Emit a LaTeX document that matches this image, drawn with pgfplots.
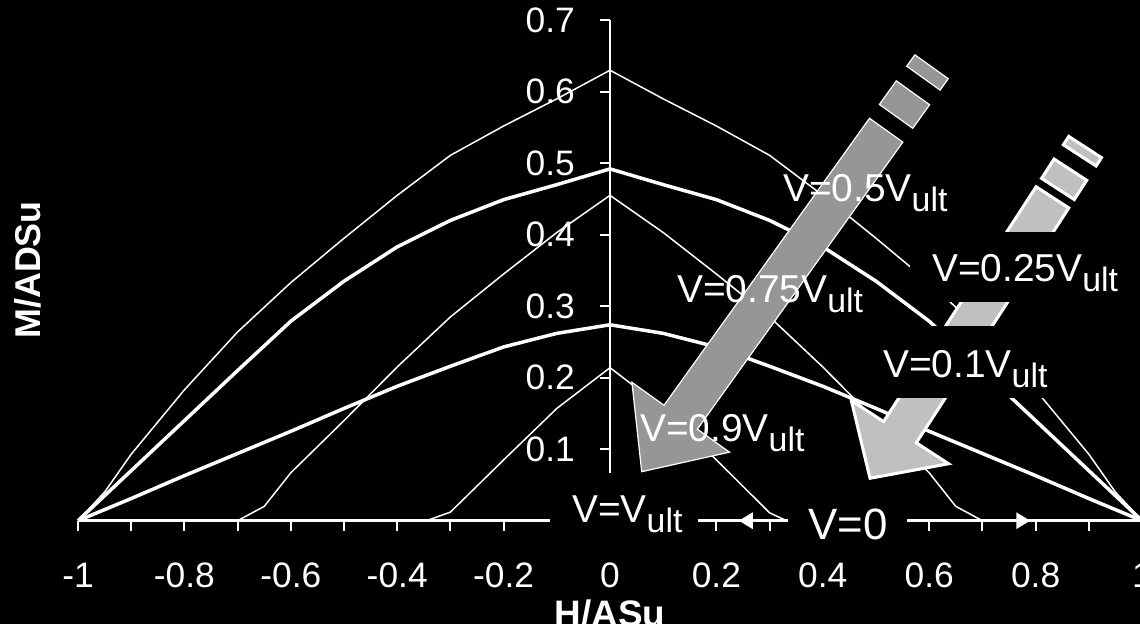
\documentclass[border=0pt]{standalone}
\usepackage{pgfplots}
\pgfplotsset{compat=1.18}
\usepackage{fontspec}
\setmainfont{Liberation Sans}
\usetikzlibrary{arrows.meta}
\definecolor{arrA}{RGB}{150,150,150}
\definecolor{arrB}{RGB}{192,192,192}
\newcommand{\ult}{\raisebox{-10bp}{\fontsize{34}{40}\selectfont ult}}
\newcommand{\lab}{\fontsize{39}{46}\selectfont}

\pgfplotstableread{
x y
-1 0
-0.95 0.04
-0.9 0.093
-0.8 0.183
-0.7 0.264
-0.6 0.333
-0.5 0.395
-0.4 0.455
-0.3 0.511
-0.2 0.552
-0.1 0.590
0 0.630
0.1 0.590
0.2 0.552
0.3 0.511
0.4 0.455
0.5 0.395
0.6 0.333
0.7 0.264
0.8 0.183
0.9 0.093
0.95 0.04
1 0
}\curveA

\pgfplotstableread{
x y
-1 0
-0.95 0.035
-0.9 0.07
-0.8 0.14
-0.7 0.21
-0.6 0.279
-0.5 0.335
-0.4 0.383
-0.3 0.42
-0.2 0.449
-0.1 0.470
0 0.492
0.1 0.470
0.2 0.449
0.3 0.42
0.4 0.383
0.5 0.335
0.6 0.279
0.7 0.21
0.8 0.14
0.9 0.07
0.95 0.035
1 0
}\curveB

\pgfplotstableread{
x y
-0.7 0
-0.65 0.02
-0.6 0.067
-0.5 0.14
-0.4 0.215
-0.3 0.285
-0.2 0.345
-0.1 0.403
0 0.455
0.1 0.403
0.2 0.345
0.3 0.285
0.4 0.215
0.5 0.14
0.6 0.067
0.65 0.02
0.7 0
}\curveC

\pgfplotstableread{
x y
-1 0
-0.9 0.031
-0.8 0.063
-0.7 0.094
-0.6 0.125
-0.5 0.157
-0.4 0.188
-0.3 0.216
-0.2 0.243
-0.1 0.262
0 0.274
0.1 0.262
0.2 0.243
0.3 0.216
0.4 0.188
0.5 0.157
0.6 0.125
0.7 0.094
0.8 0.063
0.9 0.031
1 0
}\curveD

\pgfplotstableread{
x y
-0.345 0
-0.3 0.012
-0.2 0.085
-0.1 0.157
0 0.214
0.1 0.157
0.2 0.085
0.3 0.011
0.332 0
}\curveE

\begin{document}
\begin{tikzpicture}[x=1bp,y=1bp]
\fill[black] (0,0) rectangle (1140,624);
\useasboundingbox (0,0) rectangle (1140,624);
\begin{axis}[
  at={(610bp,103.3bp)}, anchor=origin,
  scale only axis, width=1064bp, height=500.5bp,
  xmin=-1, xmax=1, ymin=0, ymax=0.7,
  axis x line*=middle, axis y line*=middle,
  axis line style={white, line width=2.5bp},
  hide obscured x ticks=false,
  tick align=outside,
  major tick length=10bp, minor tick length=10bp,
  tick style={white, line width=2bp},
  xtick={-1,-0.8,-0.6,-0.4,-0.2,0,0.2,0.4,0.6,0.8,1},
  xticklabels={-1,-0.8,-0.6,-0.4,-0.2,0,0.2,0.4,0.6,0.8,1},
  minor xtick={-0.9,-0.7,-0.5,-0.3,-0.1,0.1,0.3,0.5,0.7,0.9},
  ytick={0.1,0.2,0.3,0.4,0.5,0.6,0.7},
  yticklabels={0.1,0.2,0.3,0.4,0.5,0.6,0.7},
  ticklabel style={white, font=\fontsize{35.5}{42}\selectfont},
  xticklabel style={anchor=north, inner sep=0pt, yshift=-32bp},
  yticklabel style={anchor=east, inner sep=0pt, xshift=-25bp},
  clip=false,
]
\addplot[white, line width=1.5bp] table {\curveA};
\addplot[white, line width=3.5bp] table {\curveB};
\addplot[white, line width=1.5bp] table {\curveC};
\addplot[white, line width=3.5bp] table {\curveD};
\addplot[white, line width=1.5bp] table {\curveE};
\draw[white, line width=3bp, -{Triangle[length=14bp, width=16bp]}] (axis cs:0.335,0) -- (axis cs:0.242,0);
\draw[white, line width=3bp, -{Triangle[length=14bp, width=16bp]}] (axis cs:0.55,0) -- (axis cs:0.79,0);
\end{axis}
% block arrow 1
\begin{scope}[shift={(641.7,152.3)}, rotate=54.4]
\filldraw[fill=arrA, draw=white, line width=1.2bp] (0,0) -- (67,60) -- (67,20.5) -- (420,20.5) -- (420,-20.5) -- (67,-20.5) -- (67,-60) -- cycle;
\filldraw[fill=arrA, draw=white, line width=1.2bp] (437,-20.5) rectangle (466,20.5);
\filldraw[fill=arrA, draw=white, line width=1.2bp] (484,-20.5) rectangle (498,20.5);
\end{scope}
% block arrow 2
\begin{scope}[shift={(870,145.7)}, rotate=57.0]
\filldraw[fill=arrB, draw=white, line width=3bp, line join=miter] (0,0) -- (55,58) -- (55,19.5) -- (335,19.5) -- (335,-19.5) -- (55,-19.5) -- (55,-58) -- cycle;
\filldraw[fill=arrB, draw=white, line width=3bp] (345,-19.5) rectangle (368,19.5);
\filldraw[fill=arrB, draw=white, line width=3bp] (385,-19.5) rectangle (395,19.5);
\end{scope}
% label boxes
\fill[black] (910,322) rectangle (1140,392);
\fill[black] (857,226) rectangle (1068,298);
\fill[black] (550,76) rectangle (698,151);
\fill[black] (788,76) rectangle (907,130);
% labels
\node[anchor=base west, inner sep=0pt, white] at (783,422) {\lab V=0.5V\ult};
\node[anchor=base west, inner sep=0pt, white] at (932,342) {\lab V=0.25V\ult};
\node[anchor=base west, inner sep=0pt, white] at (677,321) {\lab V=0.75V\ult};
\node[anchor=base west, inner sep=0pt, white] at (883,246) {\lab V=0.1V\ult};
\node[anchor=base west, inner sep=0pt, white] at (640,182) {\lab V=0.9V\ult};
\node[anchor=base west, inner sep=0pt, white] at (572,101) {\lab V=V\ult};
\node[anchor=base west, inner sep=0pt, white] at (808,84) {\fontsize{44}{50}\selectfont V=0};
% axis titles
\node[anchor=base, inner sep=0pt, white, font=\fontsize{37}{44}\selectfont\bfseries] at (610,-3) {H/ASu};
\node[anchor=base, rotate=90, inner sep=0pt, white, font=\fontsize{36}{44}\selectfont\bfseries] at (40,354) {M/ADSu};
\end{tikzpicture}
\end{document}
